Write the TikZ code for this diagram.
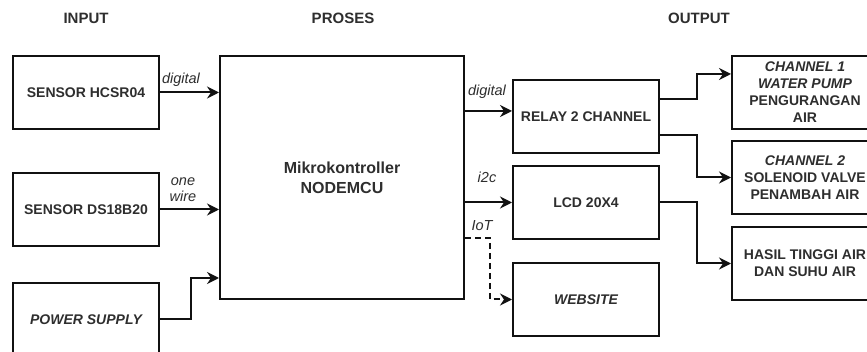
\documentclass[tikz,border=0pt]{standalone}
\usepackage{fontspec}
\setmainfont{Liberation Sans}
\usetikzlibrary{arrows.meta,calc}
\definecolor{txt}{HTML}{2E2E2E}
\definecolor{ln}{HTML}{111111}
\tikzset{
  blk/.style={draw=ln, line width=2pt, rectangle, inner sep=0pt, anchor=north west,
    minimum width=146pt, minimum height=73pt, align=center, text=txt,
    font=\fontsize{14}{17}\selectfont\bfseries},
  arr/.style={draw=ln, line width=2pt, -{Stealth[length=12pt,width=12pt,inset=4pt]}},
  lbl/.style={text=txt, font=\fontsize{14.5}{16}\selectfont\itshape, inner sep=0pt, align=center},
  hdr/.style={text=txt, font=\fontsize{15}{17}\selectfont\bfseries, inner sep=0pt}
}
\begin{document}
\begin{tikzpicture}[x=1pt,y=-1pt]
\useasboundingbox (0,0) rectangle (867,352);
\clip (0,0) rectangle (867,352);
\fill[white] (0,0) rectangle (867,352);
% headers
\node[hdr] (hin) at (86,18) {INPUT};
\node[hdr] (hpr) at (343,18) {PROSES};
\node[hdr] (hout) at (699,18) {OUTPUT};
% input boxes
\node[blk] (hc) at (12,55) {SENSOR HCSR04};
\node[blk] (ds) at (12,172) {SENSOR DS18B20};
\node[blk] (ps) at (12,282) {\itshape POWER SUPPLY};
% main box
\node[blk, minimum width=244pt, minimum height=243pt, font=\fontsize{16}{20}\selectfont\bfseries] (mcu) at (219,55) {Mikrokontroller\\NODEMCU};
% middle output boxes
\node[blk] (rl) at (512,79) {RELAY 2 CHANNEL};
\node[blk] (lcd) at (512,165) {LCD 20X4};
\node[blk] (web) at (512,262) {\itshape WEBSITE};
% right boxes
\node[blk] (c1) at (731,55) {\itshape CHANNEL 1\\\itshape WATER PUMP\\PENGURANGAN\\AIR};
\node[blk] (c2) at (731,140) {\itshape CHANNEL 2\\SOLENOID VALVE\\PENAMBAH AIR};
\node[blk] (hs) at (731,226) {HASIL TINGGI AIR\\DAN SUHU AIR};
% inputs
\draw[arr] (hc.east) -- (hc.east -| mcu.west);
\draw[arr] (ds.east) -- (ds.east -| mcu.west);
\coordinate (pin) at ([yshift=-100.5pt]mcu.west);
\draw[arr] (ps.east) -- ++(31,0) |- (pin);
% outputs
\coordinate (rin) at ([yshift=5.5pt]rl.west);
\draw[arr] (mcu.east |- rin) -- (rin);
\draw[arr] (mcu.east |- lcd.west) -- (lcd.west);
\draw[arr, dashed, dash pattern=on 6pt off 4pt] ([yshift=-60.5pt]mcu.east) -- ++(25,0) |- (web.west);
\draw[arr] ([yshift=17.5pt]rl.east) -- ++(37,0) |- ([yshift=18.5pt]c1.west);
\draw[arr] ([yshift=-18.5pt]rl.east) -- ++(37,0) |- (c2.west);
\draw[arr] (lcd.east) -- ++(37,0) |- (hs.west);
% labels
\node[lbl] (l1) at (181,80) {digital};
\node[lbl] (l2) at (183,190) {one\\wire};
\node[lbl] (l3) at (487,92) {digital};
\node[lbl] (l4) at (487,177) {i2c};
\node[lbl] (l5) at (482,226) {IoT};
\end{tikzpicture}
\end{document}
